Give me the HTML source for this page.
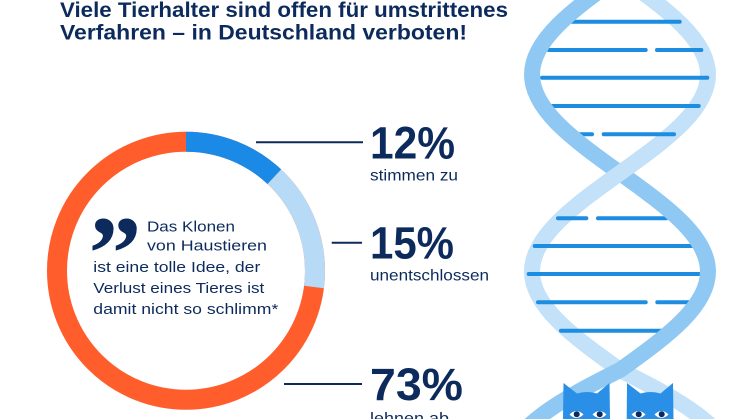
<!DOCTYPE html>
<html>
<head>
<meta charset="utf-8">
<style>
html,body{margin:0;padding:0;background:#fff;width:746px;height:419px;overflow:hidden;}
svg{display:block;overflow:hidden;}
text{font-family:"Liberation Sans",sans-serif;fill:#0c2b5c;}
</style>
</head>
<body>
<svg width="746" height="419" viewBox="0 0 746 419" xmlns="http://www.w3.org/2000/svg">
  <defs>
    <clipPath id="front">
      <rect x="500" y="145" width="246" height="55"/>
    </clipPath>
  </defs>

  <!-- Title -->
  <text x="60" y="17" font-size="21" font-weight="700" textLength="448" lengthAdjust="spacingAndGlyphs">Viele Tierhalter sind offen für umstrittenes</text>
  <text x="60" y="39.5" font-size="21" font-weight="700" textLength="407" lengthAdjust="spacingAndGlyphs">Verfahren – in Deutschland verboten!</text>

  <!-- Donut -->
  <g transform="rotate(-90 186 270.7)" fill="none" stroke-width="20">
    <circle cx="186" cy="270.7" r="129" stroke="#ff5d2c"/>
    <circle cx="186" cy="270.7" r="129" stroke="#1b8ae6" stroke-dasharray="97.3 1000"/>
    <circle cx="186" cy="270.7" r="129" stroke="#b7dbf6" stroke-dasharray="121.6 1000" stroke-dashoffset="-97.3"/>
  </g>

  <!-- Quote -->
  <text x="88.5" y="289" font-size="106" font-weight="700" style="font-family:'Liberation Serif',serif">”</text>
  <text x="147" y="231.5" font-size="15" textLength="88" lengthAdjust="spacingAndGlyphs">Das Klonen</text>
  <text x="147" y="250.7" font-size="15" textLength="120" lengthAdjust="spacingAndGlyphs">von Haustieren</text>
  <text x="93.3" y="272.2" font-size="15" textLength="167" lengthAdjust="spacingAndGlyphs">ist eine tolle Idee, der</text>
  <text x="93.3" y="293.2" font-size="15" textLength="171" lengthAdjust="spacingAndGlyphs">Verlust eines Tieres ist</text>
  <text x="93.3" y="314" font-size="15" textLength="185" lengthAdjust="spacingAndGlyphs">damit nicht so schlimm*</text>

  <!-- Leader lines -->
  <g stroke="#0c2b5c" stroke-width="2">
    <line x1="256" y1="142.3" x2="363" y2="142.3"/>
    <line x1="331.7" y1="242.7" x2="362" y2="242.7"/>
    <line x1="284" y1="384" x2="362" y2="384"/>
  </g>

  <!-- Percentages -->
  <text x="370" y="158.3" font-size="45" font-weight="700" textLength="85" lengthAdjust="spacingAndGlyphs">12%</text>
  <text x="370" y="180.7" font-size="16" textLength="88" lengthAdjust="spacingAndGlyphs">stimmen zu</text>
  <text x="370" y="258.3" font-size="45" font-weight="700" textLength="84" lengthAdjust="spacingAndGlyphs">15%</text>
  <text x="370" y="280.7" font-size="16" textLength="119" lengthAdjust="spacingAndGlyphs">unentschlossen</text>
  <text x="370" y="400" font-size="45" font-weight="700" textLength="93" lengthAdjust="spacingAndGlyphs">73%</text>
  <text x="370" y="423.5" font-size="16" textLength="79" lengthAdjust="spacingAndGlyphs">lehnen ab</text>

  <!-- DNA -->
  <g fill="none" stroke-width="16">
    <path stroke="#c3e1f8" d="M620,-24 C668.4,10.5 708,40 708,74.5 C708,109 668.4,138.5 620,173 C571.6,207.5 532,237 532,271.5 C532,306 571.6,335.5 620,370 C680,400 725,425 740,468"/>
  </g>
  <g stroke="#1c8de0" stroke-width="4" stroke-linecap="round">
    <line x1="572" y1="21.7" x2="679.7" y2="21.7"/>
    <line x1="548.7" y1="50" x2="645.7" y2="50"/>
    <line x1="657" y1="50" x2="701.3" y2="50"/>
    <line x1="542" y1="77.7" x2="707.3" y2="77.7"/>
    <line x1="550.3" y1="106" x2="698.7" y2="106"/>
    <line x1="577" y1="134.3" x2="592" y2="134.3"/>
    <line x1="603.7" y1="134.3" x2="674" y2="134.3"/>
    <line x1="558" y1="218.3" x2="586.3" y2="218.3"/>
    <line x1="598" y1="218.3" x2="666.3" y2="218.3"/>
    <line x1="534.7" y1="246" x2="692" y2="246"/>
    <line x1="528.7" y1="274" x2="699" y2="274"/>
    <line x1="538" y1="302.3" x2="645.7" y2="302.3"/>
    <line x1="657.3" y1="302.3" x2="690.3" y2="302.3"/>
    <line x1="561" y1="330.7" x2="664.7" y2="330.7"/>
  </g>
  <g fill="none" stroke-width="16">
    <path stroke="#8fc8f3" d="M620,-24 C571.6,10.5 532,40 532,74.5 C532,109 571.6,138.5 620,173 C668.4,207.5 708,237 708,271.5 C708,306 668.4,335.5 620,370 C560,400 515,425 500,468"/>
    <path stroke="#c3e1f8" clip-path="url(#front)" d="M620,-24 C668.4,10.5 708,40 708,74.5 C708,109 668.4,138.5 620,173 C571.6,207.5 532,237 532,271.5"/>
  </g>

  <!-- Cats -->
  <g fill="#2a8fe6">
    <path d="M563,419 L563.5,383 L577,393.5 Q587,390.5 597,393.5 L609.5,383 L610,419 Z"/>
    <path d="M626.7,419 L627,383 L640.5,393.5 Q650.5,390.5 660.5,393.5 L673,383 L673.5,419 Z"/>
  </g>
  <g fill="#ffffff">
    <path d="M569.5,414.5 Q576.5,407.5 583.5,414.5 Q576.5,421.5 569.5,414.5 Z"/>
    <path d="M592.5,414.5 Q599.5,407.5 606.5,414.5 Q599.5,421.5 592.5,414.5 Z"/>
    <path d="M631.5,414.5 Q638.5,407.5 645.5,414.5 Q638.5,421.5 631.5,414.5 Z"/>
    <path d="M654.5,414.5 Q661.5,407.5 668.5,414.5 Q661.5,421.5 654.5,414.5 Z"/>
  </g>
  <g fill="#0c2b5c">
    <circle cx="576.7" cy="414.3" r="3"/>
    <circle cx="599.7" cy="414.3" r="3"/>
    <circle cx="638.7" cy="414.3" r="3"/>
    <circle cx="661.7" cy="414.3" r="3"/>
  </g>
</svg>
</body>
</html>
